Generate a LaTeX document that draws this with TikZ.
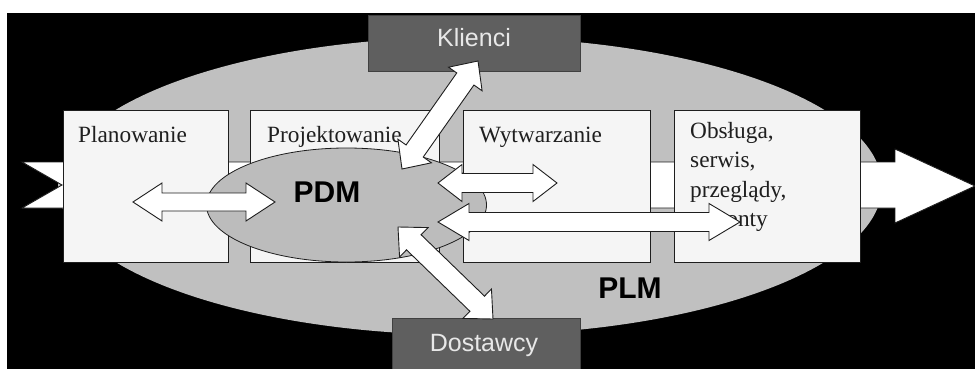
\documentclass[tikz,border=0pt]{standalone}
\usepackage{fontspec}
\setmainfont{Liberation Serif}
\newfontfamily\sansf{Liberation Sans}
\usetikzlibrary{calc,shapes.geometric}
\definecolor{plmgray}{HTML}{C0C0C0}
\definecolor{pdmgray}{HTML}{BCBCBC}
\definecolor{boxfill}{HTML}{F5F5F5}
\definecolor{edgecol}{HTML}{1E1E1E}
\definecolor{extfill}{HTML}{5F5F5F}
\definecolor{exttext}{HTML}{E8E8E8}
% #1,#2 tips; #3 shaft half-width; #4 head half-width; #5 head length
\newcommand{\blockdbl}[5]{%
  \draw[blockarrow] (#1)
   -- ($(#1)!#5!(#2)!#4!90:(#2)$)
   -- ($(#1)!#5!(#2)!#3!90:(#2)$)
   -- ($(#2)!#5!(#1)!#3!-90:(#1)$)
   -- ($(#2)!#5!(#1)!#4!-90:(#1)$)
   -- (#2)
   -- ($(#2)!#5!(#1)!#4!90:(#1)$)
   -- ($(#2)!#5!(#1)!#3!90:(#1)$)
   -- ($(#1)!#5!(#2)!#3!-90:(#2)$)
   -- ($(#1)!#5!(#2)!#4!-90:(#2)$)
   -- cycle;}
\begin{document}
\begin{tikzpicture}[x=1pt,y=-1pt,
  stage/.style={draw=edgecol, line width=1pt, fill=boxfill, inner sep=0pt, minimum height=152pt},
  extbox/.style={draw=black!75, line width=1pt, fill=extfill, inner sep=0pt},
  lbl/.style={font=\fontsize{23.3}{29.3}\selectfont, text=black!88, inner sep=0pt, anchor=base west},
  bigsans/.style={font=\sansf\bfseries\fontsize{30}{36}\selectfont, inner sep=0pt},
  extlbl/.style={font=\sansf\fontsize{25}{30}\selectfont, text=exttext, inner sep=0pt},
  blockarrow/.style={draw=edgecol, line width=0.9pt, fill=white, line join=miter}]
\useasboundingbox (0,0) rectangle (975,369);
\fill[white] (0,0) rectangle (975,369);
\fill[black] (7,13) rectangle (975,369);
% PLM ellipse
\node[ellipse, fill=plmgray, minimum width=824pt, minimum height=298pt, inner sep=0pt] (plm) at (470,186) {};
% big lifecycle arrow
\draw[draw=edgecol, line width=0.9pt, fill=white, line join=miter]
  (22,162) -- (895,162) -- (895,149) -- (975,186) -- (895,223) -- (895,208) -- (22,208) -- (62,185) -- cycle;
% stage boxes
\node[stage, minimum width=165pt] (plan) at (145.5,186) {};
\node[stage, minimum width=189pt] (proj) at (344.5,186) {};
\node[stage, minimum width=187pt] (wytw) at (556.5,186) {};
\node[stage, minimum width=186pt] (obs) at (767,186) {};
\node[lbl] (tplan) at (78,142) {Planowanie};
\node[lbl] (tproj) at (267,142) {Projektowanie};
\node[lbl] (twytw) at (479,142) {Wytwarzanie};
\node[lbl] (tobs1) at (690,138) {Obsługa,};
\node[lbl] (tobs2) at (690,167.5) {serwis,};
\node[lbl] (tobs3) at (690,197) {przeglądy,};
\node[lbl] (tobs4) at (690,226) {remonty};
% PDM ellipse
\node[ellipse, draw=edgecol, line width=0.8pt, fill=pdmgray, minimum width=280pt, minimum height=114pt, inner sep=0pt] (pdm) at (346.5,205) {};
\node[bigsans] (tpdm) at (327,192) {PDM};
\node[bigsans] (tplm) at (630,288) {PLM};
% external parties
\node[extbox, minimum width=212pt, minimum height=56pt] (kli) at (474,44) {};
\node[extlbl] (tkli) at (474,38) {Klienci};
\node[extbox, minimum width=188pt, minimum height=64pt] (dos) at (486,350) {};
\node[extlbl, anchor=base] (tdos) at (484,351) {Dostawcy};
% arrow end points
\coordinate (a1s) at (133,202); \coordinate (a1e) at (275,202);
\coordinate (a2s) at (438,183); \coordinate (a2e) at (557,183);
\coordinate (a3s) at (438,222); \coordinate (a3e) at (740,222);
\coordinate (a4s) at (402,169); \coordinate (a4e) at (478,61);
\coordinate (a5s) at (398,227); \coordinate (a5e) at (493,319);
\blockdbl{a1s}{a1e}{9pt}{19pt}{29pt}
\blockdbl{a2s}{a2e}{9.5pt}{18.5pt}{24pt}
\blockdbl{a3s}{a3e}{9.5pt}{18.5pt}{31pt}
\blockdbl{a4s}{a4e}{10.5pt}{20.5pt}{22pt}
\blockdbl{a5s}{a5e}{10.5pt}{20.5pt}{22pt}
\end{tikzpicture}
\end{document}
